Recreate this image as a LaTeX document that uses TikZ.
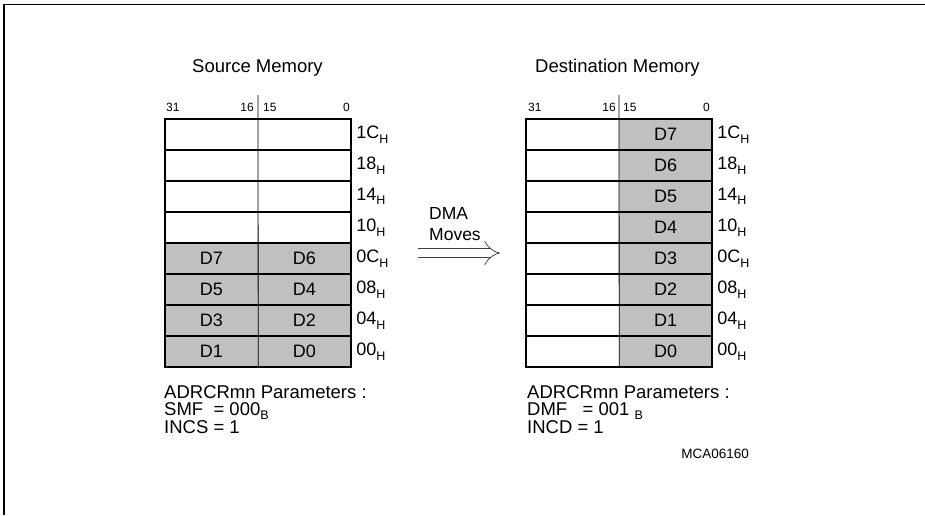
\documentclass[tikz,border=0pt]{standalone}
\usepackage{fontspec}
\setmainfont{Liberation Sans}
\usetikzlibrary{arrows.meta,positioning}
\definecolor{cellgrey}{HTML}{C0C0C0}
\newcommand{\pxfont}[1]{\fontsize{#1}{#1}\selectfont}
\newcommand{\lowsub}[1]{\raisebox{-0.25em}{\pxfont{12.5}#1}}
\tikzset{
  cell/.style={inner sep=0pt,minimum width=93pt,minimum height=31pt,font=\pxfont{18}},
  cellg/.style={cell,fill=cellgrey},
  rowline/.style={line width=1.6pt},
  midline/.style={line width=0.8pt},
  addr/.style={anchor=west,inner sep=0pt,font=\pxfont{18}},
  bitno/.style={inner sep=0pt,font=\pxfont{12}},
  memtitle/.style={anchor=base west,inner sep=0pt,font=\pxfont{18.5}},
  params/.style={anchor=north west,inner sep=0pt,align=left,font=\fontsize{18.5}{17}\selectfont},
  moves/.style={double,double distance=8pt,line width=0.8pt,draw=black!75,-{Implies}},
  mvlab/.style={anchor=base west,inner sep=0pt,font=\pxfont{17.5}},
}

\begin{document}
\begin{tikzpicture}[x=1pt,y=-1pt]
  \useasboundingbox (0,0) rectangle (925,515);
  \draw[line width=1.5pt] (925,4.5) -- (4,4.5) -- (4,515);
  % ---- source memory ----
  \node[memtitle] (stitle) at (192,72) {Source Memory};
  \node[bitno,anchor=base west] (sb31) at (166,111) {31};
  \node[bitno,anchor=base east] (sb16) at (254,111) {16};
  \node[bitno,anchor=base west] (sb15) at (263,111) {15};
  \node[bitno,anchor=base east] (sb0)  at (350,111) {0};
  \foreach \a [count=\i from 0] in {1C,18,14,10}{
    \node[cell] (sl\i) at (211.5,{134.5+31*\i}) {};
    \node[cell] (sr\i) at (304.5,{134.5+31*\i}) {};
  }
  \foreach \a/\lo/\hi [count=\i from 4] in {0C/D7/D6,08/D5/D4,04/D3/D2,00/D1/D0}{
    \node[cellg] (sl\i) at (211.5,{134.5+31*\i}) {\lo};
    \node[cellg] (sr\i) at (304.5,{134.5+31*\i}) {\hi};
  }
  \foreach \a [count=\i from 0] in {1C,18,14,10,0C,08,04,00}{
    \draw[rowline] (sl\i.north west) rectangle (sr\i.south east);
    \node[addr] (sa\i) at ([xshift=5pt]sr\i.east) {\a\lowsub{H}};
  }
  \coordinate (stop) at (258,95);
  \draw[midline] (stop) -- (sl7.south east);
  \node[params] (spar) at (164,385)
    {ADRCRmn Parameters :\\ SMF\ \ = 000\lowsub{B}\\ INCS = 1};
  % ---- the move ----
  \node[mvlab] (dma) at (429,219) {DMA};
  \node[mvlab] (mv) at (429,240) {Moves};
  \coordinate (mvfrom) at (418,253);
  \coordinate (mvto) at (500,253);
  \draw[moves] (mvfrom) -- (mvto);
  % ---- destination memory ----
  \node[memtitle] (dtitle) at (535,72) {Destination Memory};
  \node[bitno,anchor=base west] (db31) at (528,111) {31};
  \node[bitno,anchor=base east] (db16) at (616,111) {16};
  \node[bitno,anchor=base west] (db15) at (623,111) {15};
  \node[bitno,anchor=base east] (db0)  at (710,111) {0};
  \foreach \a/\d [count=\i from 0] in {1C/D7,18/D6,14/D5,10/D4,0C/D3,08/D2,04/D1,00/D0}{
    \node[cell]  (dl\i) at (572.5,{134.5+31*\i}) {};
    \node[cellg] (dr\i) at (665.5,{134.5+31*\i}) {\d};
    \draw[rowline] (dl\i.north west) rectangle (dr\i.south east);
    \node[addr] (da\i) at ([xshift=5pt]dr\i.east) {\a\lowsub{H}};
  }
  \coordinate (dtop) at (619,95);
  \draw[midline] (dtop) -- (dl7.south east);
  \node[params] (dpar) at (527,385)
    {ADRCRmn Parameters :\\ DMF\ \ \ = 001 \lowsub{B}\\ INCD = 1};
  \node[anchor=base east,inner sep=0pt,font=\pxfont{13.5}] (figid) at (749,458) {MCA06160};
\end{tikzpicture}
\end{document}
